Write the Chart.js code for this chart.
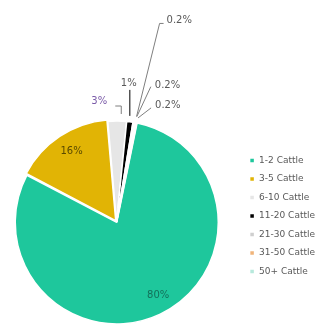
<!DOCTYPE html>
<html>
<head>
<meta charset="utf-8">
<script src="https://cdn.jsdelivr.net/npm/chart.js@4"></script>
<style>
  html, body { margin: 0; padding: 0; background: #fff; }
  #wrap { width: 317px; height: 324px; }
</style>
</head>
<body>
<div id="wrap"><canvas id="pie" width="317" height="324"></canvas></div>
<script>
// herd size groups and their share of farms (%)
const categories = ["1-2 Cattle", "3-5 Cattle", "6-10 Cattle", "11-20 Cattle", "21-30 Cattle", "31-50 Cattle", "50+ Cattle"];
const shares = [80, 16, 3, 1, 0.2, 0.2, 0.2];
const shareLabels = ["80%", "16%", "3%", "1%", "0.2%", "0.2%", "0.2%"];

const SLICE_COLORS = ["#1ec79c", "#e1b405", "#e6e6e6", "#000000", "#cfcfcf", "#f0b47a", "#b7e9dc"];

// where each label sits relative to its slice: inside or with a leader line
const LABEL_STYLE = [
  { inside: true, r: 0.8, dx: 7, color: "#13705a" },
  { inside: true, r: 0.84, dx: 2, color: "#5a4a00" },
  { text: [-26, -20], line: [[4, -7], [4, -15], [-2, -15]], color: "#7a5aa8" },
  { text: [-9, -38], line: [[0, -6], [0, -32]], color: "#595959" },
  { text: [33, -102], line: [[3, -6], [26, -99], [30, -99]], color: "#595959" },
  { text: [20, -37], line: [[2, -6], [16, -36]], color: "#595959" },
  { text: [19, -17], line: [[2, -5], [15, -15]], color: "#595959" }
];

const sliceLabels = {
  id: "sliceLabels",
  afterDatasetsDraw(chart) {
    const { ctx } = chart;
    const arcs = chart.getDatasetMeta(0).data;
    ctx.save();
    ctx.font = "10px 'DejaVu Sans'";
    ctx.textBaseline = "middle";
    arcs.forEach((arc, i) => {
      const st = LABEL_STYLE[i];
      const { x, y, startAngle, endAngle, outerRadius } = arc.getProps(["x", "y", "startAngle", "endAngle", "outerRadius"], true);
      const mid = (startAngle + endAngle) / 2;
      if (st.inside) {
        ctx.fillStyle = st.color;
        ctx.textAlign = "center";
        ctx.fillText(shareLabels[i], x + st.dx + Math.cos(mid) * outerRadius * st.r, y + Math.sin(mid) * outerRadius * st.r);
        return;
      }
      // anchor on the outer edge of the slice
      const ax = x + Math.cos(mid) * outerRadius;
      const ay = y + Math.sin(mid) * outerRadius;
      ctx.strokeStyle = i === 3 ? "#000" : "#7f7f7f";
      ctx.lineWidth = 1;
      ctx.beginPath();
      st.line.forEach(([dx, dy], k) => {
        if (k === 0) ctx.moveTo(ax + dx, ay + dy); else ctx.lineTo(ax + dx, ay + dy);
      });
      ctx.stroke();
      ctx.fillStyle = st.color;
      ctx.textAlign = "left";
      ctx.fillText(shareLabels[i], ax + st.text[0], ay + st.text[1]);
    });
    ctx.restore();
  }
};

// nudge the legend up a little and back to the right edge
const legendNudge = {
  id: "legendNudge",
  afterLayout(chart) {
    chart.legend.top -= 6;
    chart.legend.bottom -= 6;
    chart.legend.left += 7;
    chart.legend.right += 7;
  }
};

new Chart(document.getElementById("pie"), {
  type: "pie",
  data: {
    labels: categories,
    datasets: [{
      data: shares,
      backgroundColor: SLICE_COLORS,
      borderColor: "#ffffff",
      borderWidth: 1.5,
      offset: [2, 6, 0, 0, 0, 0, 0]
    }]
  },
  options: {
    responsive: false,
    animation: false,
    rotation: 11.5,
    radius: 101,
    layout: { padding: { left: 0, top: 120, right: -1, bottom: 0 } },
    plugins: {
      legend: {
        position: "right",
        align: "center",
        labels: {
          boxWidth: 5,
          boxHeight: 5,
          padding: 9.5,
          color: "#595959",
          font: { family: "'DejaVu Sans'", size: 9 }
        }
      },
      tooltip: { enabled: false }
    }
  },
  plugins: [sliceLabels, legendNudge]
});
</script>
</body>
</html>
